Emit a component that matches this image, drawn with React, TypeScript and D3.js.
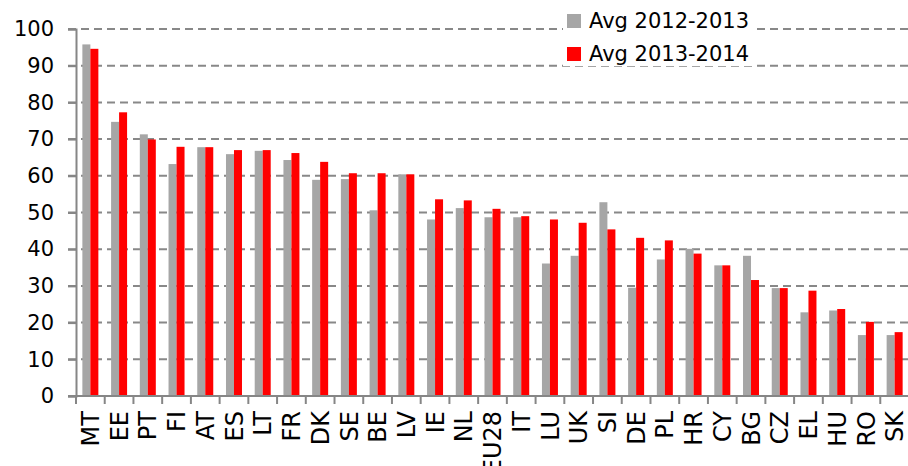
import React, { useEffect, useRef } from "react";
import * as d3 from "d3";

const countries = ["MT", "EE", "PT", "FI", "AT", "ES", "LT", "FR", "DK", "SE", "BE", "LV", "IE", "NL", "EU28", "IT", "LU", "UK", "SI", "DE", "PL", "HR", "CY", "BG", "CZ", "EL", "HU", "RO", "SK"];
const avg2012_2013 = [95.8, 74.7, 71.3, 63.2, 67.8, 65.9, 66.8, 64.3, 58.9, 59.1, 50.6, 60.4, 48.1, 51.2, 48.7, 48.7, 36.1, 38.2, 52.8, 29.5, 37.2, 40.1, 35.6, 38.2, 29.4, 22.8, 23.3, 16.6, 16.6];
const avg2013_2014 = [94.6, 77.3, 69.9, 67.9, 67.8, 67.0, 67.0, 66.2, 63.8, 60.7, 60.7, 60.4, 53.6, 53.3, 51.0, 49.0, 48.1, 47.2, 45.4, 43.1, 42.4, 38.8, 35.6, 31.6, 29.4, 28.7, 23.7, 20.2, 17.4];
const seriesNames = ["Avg 2012-2013", "Avg 2013-2014"];
const seriesColors = ["#A6A6A6", "#FF0000"];
const yTicks = [0, 10, 20, 30, 40, 50, 60, 70, 80, 90, 100];

const W = 908;
const H = 466;
const FONT = "'DejaVu Sans', sans-serif";

function Chart() {
  const ref = useRef<SVGSVGElement | null>(null);

  useEffect(() => {
    const svg = d3.select(ref.current);
    svg.selectAll("*").remove();

    const left = 76, right = 909, top = 29, bottom = 396;

    const x = d3.scaleBand().domain(countries).range([left, right]).padding(0);
    const x1 = d3.scaleBand().domain(seriesNames)
      .range([(x.bandwidth() - 16) / 2, (x.bandwidth() + 16) / 2]).padding(0);
    const y = d3.scaleLinear().domain([0, 100]).range([bottom, top]);

    // gridlines
    svg.append("g")
      .selectAll("line")
      .data(yTicks.filter(d => d > 0))
      .enter()
      .append("line")
      .attr("x1", left - 8)
      .attr("x2", W)
      .attr("y1", d => y(d))
      .attr("y2", d => y(d))
      .attr("stroke", "#888888")
      .attr("stroke-width", 2)
      .attr("stroke-dasharray", "8,5");

    // bars
    const rows = countries.map((c, i) => ({ c, vals: [avg2012_2013[i], avg2013_2014[i]] }));
    const groups = svg.append("g")
      .selectAll("g")
      .data(rows)
      .enter()
      .append("g")
      .attr("transform", d => `translate(${x(d.c)},0)`);

    groups.selectAll("rect")
      .data(d => d.vals.map((v, k) => ({ v, k })))
      .enter()
      .append("rect")
      .attr("x", d => x1(seriesNames[d.k]) as number)
      .attr("y", d => y(d.v))
      .attr("width", x1.bandwidth())
      .attr("height", d => bottom - y(d.v))
      .attr("fill", d => seriesColors[d.k]);

    // y axis
    const yAxis = svg.append("g")
      .attr("transform", `translate(${left},0)`)
      .call(d3.axisLeft(y).tickValues(yTicks).tickSize(8).tickPadding(14));
    yAxis.select(".domain").attr("stroke", "#868686").attr("stroke-width", 2);
    yAxis.selectAll(".tick line").attr("stroke", "#868686").attr("stroke-width", 2);
    yAxis.selectAll(".tick text")
      .attr("font-family", FONT)
      .attr("font-size", 21)
      .attr("fill", "#000");

    // x axis
    const xAxis = svg.append("g")
      .attr("transform", `translate(0,${bottom})`)
      .call(d3.axisBottom(x).tickSize(0).tickSizeOuter(0));
    xAxis.select(".domain").remove();
    xAxis.append("line")
      .attr("x1", left - 8).attr("x2", W)
      .attr("y1", 0).attr("y2", 0)
      .attr("stroke", "#868686").attr("stroke-width", 2);
    xAxis.selectAll(".sep")
      .data(countries)
      .enter()
      .append("line")
      .attr("x1", d => x(d) as number)
      .attr("x2", d => x(d) as number)
      .attr("y1", 0).attr("y2", 8)
      .attr("stroke", "#868686").attr("stroke-width", 2);
    xAxis.selectAll(".tick text")
      .attr("font-family", FONT)
      .attr("font-size", 24)
      .attr("fill", "#000")
      .attr("text-anchor", "end")
      .attr("transform", "rotate(-90)")
      .attr("x", -15)
      .attr("y", 0)
      .attr("dy", "0.36em");

    // legend
    const legend = svg.append("g");
    legend.append("rect")
      .attr("x", 563).attr("y", 8).attr("width", 192).attr("height", 58)
      .attr("fill", "#fff");
    seriesNames.forEach((s, i) => {
      legend.append("rect")
        .attr("x", 567).attr("y", 14 + i * 33)
        .attr("width", 14).attr("height", 14)
        .attr("fill", seriesColors[i]);
      legend.append("text")
        .attr("x", 589).attr("y", 28 + i * 32.5)
        .attr("font-family", FONT)
        .attr("font-size", 21)
        .attr("fill", "#000")
        .text(s);
    });
  }, []);

  return <svg ref={ref} width={W} height={H} style={{ position: "absolute", left: 0, top: 0, background: "#fff" }} />;
}

export default function App() {
  return <Chart />;
}
